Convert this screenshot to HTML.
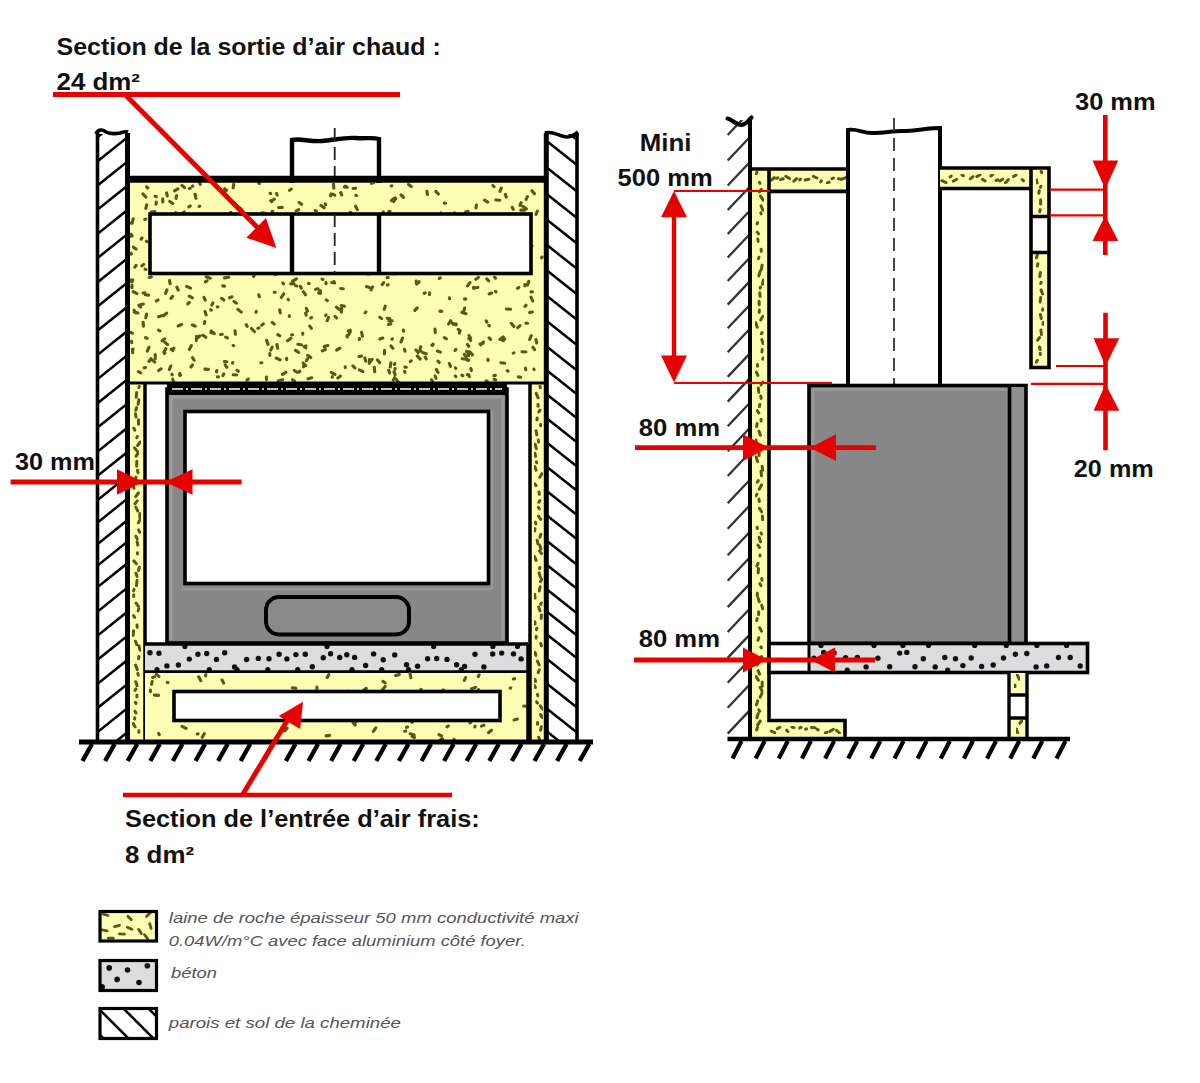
<!DOCTYPE html>
<html><head><meta charset="utf-8"><title>Diagram</title>
<style>html,body{margin:0;padding:0;background:#fff;width:1200px;height:1083px;overflow:hidden;position:relative;font-family:"Liberation Sans",sans-serif;}</style>
</head><body>
<div style="position:absolute;left:0;top:0;width:1200px;height:1083px">
<svg width="1200" height="1083" viewBox="0 0 1200 1083" style="position:absolute;left:0;top:0">
<rect width="1200" height="1083" fill="#fff"/>
<defs><filter id="bl" x="-5%" y="-5%" width="110%" height="110%"><feGaussianBlur stdDeviation="0.6"/></filter></defs>
<rect x="129.0" y="182.0" width="415.0" height="201.0" fill="#fdfdb3"/>
<path d="M262.2 212.7L265.3 213.4M351.3 255.4L351.3 256.1M145.1 269.2L145.9 269.4M304.9 347.2L305.7 347.9M388.7 370.3L389.6 372.9M532.0 190.7L534.4 193.8M190.3 206.0L188.9 206.9M204.0 297.3L205.2 300.1M355.9 195.3L356.5 195.7M411.2 267.2L410.8 268.9M318.2 241.2L316.1 244.1M232.0 296.8L229.6 297.8M429.2 239.5L433.3 241.1M302.7 333.1L302.7 334.2M146.6 314.2L145.8 317.7M492.1 243.9L491.1 247.0M371.4 273.5L367.6 274.1M326.0 314.9L325.6 315.5M396.1 379.1L398.5 382.1M289.3 315.8L289.4 316.4M199.7 206.1L199.1 206.5M184.4 231.9L182.5 232.7M164.5 271.9L162.0 272.9M468.2 354.2L468.6 355.7M276.2 358.0L280.1 359.9M202.7 228.4L202.8 229.9M373.2 235.0L373.4 235.5M283.7 293.9L281.3 297.5M341.3 305.6L344.5 306.2M503.1 337.0L499.9 339.4M292.2 262.0L291.9 262.8M155.1 196.1L156.3 196.7M270.2 193.3L270.7 193.6M172.2 255.2L171.6 255.5M383.3 211.9L384.0 213.2M282.3 207.4L278.5 207.5M322.1 279.2L322.9 279.4M269.8 234.8L273.2 236.6M138.4 371.7L140.7 372.8M355.6 188.3L353.0 188.5M486.2 320.8L486.9 322.2M200.0 335.8L198.0 337.5M268.0 227.3L264.3 227.5M483.4 342.0L480.8 344.8M222.7 285.9L224.6 286.1M142.0 238.0L141.1 239.2M527.2 271.9L522.9 272.1M523.9 255.1L524.9 256.0M212.7 223.2L209.8 224.1M478.4 277.5L475.8 279.3M166.6 313.1L163.4 315.8M440.3 277.8L439.3 278.5M266.6 340.3L268.0 344.4M294.3 370.5L297.2 372.3M184.2 211.9L180.8 214.3M191.4 345.5L189.3 349.4M274.2 292.2L275.2 292.2M532.3 312.0L529.7 312.6M307.7 355.3L310.7 357.6M234.2 240.6L233.8 242.0M237.6 266.2L236.6 266.5M277.5 273.8L274.8 274.6M303.8 364.4L303.6 366.9M345.3 186.1L347.2 187.3M131.6 341.4L131.7 342.6M429.6 292.8L429.5 294.6M359.5 338.6L359.3 339.5M232.7 236.3L232.6 239.9M361.6 332.2L362.4 336.3M383.7 282.6L382.2 284.7M318.0 288.9L315.6 289.3M417.3 355.9L420.2 359.0M359.3 369.9L362.8 371.5M179.9 270.7L180.5 271.3M161.9 315.6L158.5 316.8M192.4 324.8L195.2 326.2M495.3 375.4L493.9 375.6M296.4 278.8L292.6 281.1M196.1 267.8L197.3 270.0M209.2 246.3L212.5 246.5M358.7 270.4L359.0 270.9M388.1 284.9L387.3 285.0M455.3 376.0L455.9 376.7M145.6 337.7L147.1 338.3M303.1 363.0L305.7 365.7M192.5 364.8L190.9 367.0M166.6 192.9L167.3 196.0M161.1 368.8L158.7 370.6M164.9 353.2L164.2 353.5M318.7 250.2L316.1 250.8M239.7 207.8L241.6 209.6M174.9 214.9L175.5 215.3M257.8 242.3L259.9 245.1M335.6 218.3L337.5 218.5M233.7 184.4L233.2 187.7M206.2 276.8L210.2 278.2M469.3 268.4L467.1 269.6M294.0 283.7L290.7 283.9M272.2 347.1L270.8 350.1M296.8 252.0L297.5 252.3M158.5 330.1L159.9 330.8M165.9 348.7L163.9 352.1M246.3 230.4L246.5 232.0M195.8 271.6L194.3 271.8M532.4 291.8L531.0 291.9M257.8 253.7L257.9 254.2M326.0 282.4L326.0 283.7M131.9 235.2L132.2 236.0M146.6 186.9L147.8 188.0M372.7 286.8L371.0 289.8M425.2 357.1L426.2 358.8M537.4 211.2L536.0 214.3M148.9 347.3L147.3 351.1M433.1 344.1L433.0 345.2M339.9 348.2L336.7 350.1M372.1 359.3L370.3 362.0M224.7 188.7L225.2 189.7M173.9 348.1L172.8 350.6M387.4 318.4L389.9 318.5M459.6 330.7L459.3 333.2M401.1 194.9L403.5 197.4M159.4 234.8L162.1 236.9M435.1 376.0L436.0 378.3M328.5 317.4L327.2 320.7M395.1 198.0L395.8 198.8M435.6 243.5L438.3 243.6M156.0 235.2L154.1 237.8M408.9 239.6L409.2 242.2M320.9 205.4L324.2 207.8M533.9 369.0L534.0 369.6M467.9 374.8L469.4 376.5M216.8 370.5L216.5 371.8M186.6 286.4L190.5 288.2M470.0 282.6L467.5 285.9M224.3 361.5L226.8 361.7M130.8 279.9L132.2 281.8M188.9 251.0L187.3 251.9M128.9 331.7L132.5 333.1M511.3 323.3L513.9 326.5M284.3 259.0L283.1 263.3M278.2 268.1L279.8 268.3M172.8 348.9L171.2 349.3M231.9 235.2L234.0 236.6M285.9 372.2L282.5 374.4M390.9 362.7L390.2 366.9M426.9 191.2L427.4 194.5M440.0 311.1L441.7 311.4M512.2 207.3L513.3 209.4M251.5 328.5L254.5 331.7M400.5 241.6L401.4 244.2M199.7 215.0L198.5 215.4M337.4 226.8L333.2 226.8M315.2 210.6L316.4 211.0M270.7 200.6L271.7 201.7M364.8 357.9L365.7 361.2M300.4 286.4L301.4 288.2M153.6 237.4L157.6 239.1M336.4 307.1L339.4 309.5M241.8 231.4L242.1 233.5M522.0 351.8L526.0 352.0M143.1 322.2L143.5 326.2M373.5 182.8L371.5 183.3M469.4 351.7L472.5 354.8M175.7 212.6L174.3 214.8M520.0 325.6L517.7 327.7M319.1 292.5L318.6 293.0M225.2 364.8L226.9 367.3M183.7 231.9L182.0 234.3M176.6 195.7L176.0 198.3M288.8 227.4L291.7 227.5M255.5 272.7L253.6 276.6M494.5 277.1L495.5 278.1M525.9 323.2L527.6 323.3M335.0 316.4L336.6 318.0M404.9 367.0L406.3 367.2M268.3 265.7L270.9 267.6M458.2 329.3L460.2 330.8M529.1 243.8L532.0 246.3M222.3 334.2L220.6 334.5M334.6 219.6L334.9 220.9M404.6 371.3L404.9 372.3M217.4 376.8L218.5 376.9M156.7 260.5L152.9 262.0M431.5 379.7L433.7 383.3M204.9 369.1L208.4 369.4M403.9 257.5L404.9 259.2M199.5 182.8L200.3 184.3M522.9 206.3L526.4 208.9M276.9 344.6L277.7 348.3M151.3 277.0L149.4 277.5M207.7 255.3L211.8 255.7M297.9 344.3L301.4 344.8M142.9 193.9L145.8 197.0M438.0 361.1L439.2 362.5M526.0 305.2L525.0 306.4M260.9 237.7L260.5 238.0M506.4 309.0L510.6 309.3M228.7 277.3L224.4 277.9M289.6 231.8L289.7 234.1M514.6 218.0L512.0 220.8M469.0 335.5L470.6 338.0M260.2 254.6L263.7 255.5M210.8 332.7L212.2 333.0M144.9 292.9L143.1 293.0M494.1 379.4L495.6 379.8M169.5 280.6L170.1 283.8M227.5 264.7L225.9 267.2M437.4 351.0L440.4 352.1M476.7 240.2L477.8 242.7M434.3 222.1L435.4 223.2M192.6 357.7L194.1 360.2M292.6 379.7L294.5 381.3M461.8 312.3L466.0 313.7M327.9 345.5L324.2 346.5M146.3 241.2L147.1 241.7M531.0 297.1L532.7 301.0M488.3 271.9L487.1 272.9M521.1 202.7L520.0 205.4M219.5 256.1L220.3 256.7M234.0 301.4L236.5 303.2M133.4 247.2L136.0 249.0M259.2 221.7L258.7 225.3M156.3 202.1L156.0 204.2M394.3 200.7L393.6 201.6M300.1 239.3L298.4 239.5M258.8 294.8L259.3 296.7M486.1 380.8L487.7 381.9M430.9 223.5L430.4 223.6M306.0 345.9L304.0 346.6M320.4 215.1L320.3 215.6M394.8 363.7L394.4 364.4M282.8 283.0L283.5 283.8M345.2 366.7L345.3 367.6M461.8 375.2L463.0 375.7M518.3 376.9L520.7 377.3M513.3 258.3L511.7 262.1M469.1 213.7L471.9 216.1M295.5 350.4L298.7 352.5M219.6 261.3L220.6 263.8M182.4 231.6L179.2 232.7M145.2 294.7L148.7 295.1M476.4 205.0L476.0 207.9M389.2 242.9L388.7 245.0M305.6 313.0L306.1 315.2M138.7 305.3L140.6 307.0M444.4 337.6L446.3 338.8M325.3 203.8L325.5 204.8M166.6 270.8L169.1 271.1M394.2 198.3L391.5 200.5M340.8 192.6L341.7 195.0M524.7 210.1L520.7 210.1M433.0 345.1L431.7 345.2M331.3 372.3L335.0 374.4M455.4 367.8L455.8 368.5M441.0 213.0L443.6 216.1M468.1 211.3L465.6 211.9M215.4 234.2L216.7 236.4M145.8 219.1L144.7 219.4M411.2 360.8L410.2 361.6M176.9 287.2L178.2 290.0M491.8 293.0L489.2 294.0M172.7 379.2L173.7 382.0M460.0 233.5L458.9 237.9M277.8 334.6L279.7 335.8M435.8 191.3L438.4 194.0M394.7 377.6L393.3 380.1M258.8 183.2L259.4 183.5M385.6 268.6L383.2 269.4M183.0 228.1L186.1 228.3M130.9 253.2L131.3 254.1M221.5 298.3L223.8 300.0M388.2 277.4L387.2 277.6M230.8 212.3L230.4 213.1M489.1 337.9L490.6 339.4M134.1 310.1L135.4 312.6M398.1 269.7L395.2 272.9M232.7 362.5L232.6 363.1M298.0 230.1L297.4 230.5M133.2 291.7L137.0 293.6M212.9 302.9L211.9 305.1M465.4 217.0L466.4 218.5M151.2 358.6L148.9 361.4M132.4 349.3L132.8 352.8M435.7 272.8L437.0 273.3M226.6 190.1L225.3 191.4M416.0 350.0L418.2 352.5M358.8 268.0L358.6 271.6M237.9 309.4L241.3 312.1M492.9 185.5L494.0 186.6M436.3 369.5L438.1 372.5M494.2 248.2L492.8 248.6M392.1 320.8L388.9 321.0M325.4 349.4L322.4 350.8M309.8 326.1L311.4 328.3M217.9 306.8L217.2 307.0M190.2 188.3L189.3 188.5M272.1 211.2L272.7 211.3M417.2 307.9L414.9 310.4M158.0 300.0L156.3 301.0M468.8 360.2L468.1 360.5M507.3 370.6L508.0 371.2M177.9 188.8L174.6 190.9M391.0 346.0L392.9 348.4M169.8 201.4L172.7 203.5M261.6 267.1L262.0 267.5M246.2 324.6L247.2 326.3M528.8 281.4L527.4 285.1M143.6 264.4L141.9 265.9M272.2 322.4L274.3 324.1M484.5 200.1L487.7 202.1M132.3 223.1L128.8 223.3M132.8 279.9L130.8 281.4M207.0 280.9L205.4 281.9M237.0 370.3L238.3 371.3M419.1 281.7L418.7 282.6M164.7 338.8L162.1 340.8M389.0 252.8L389.7 254.8M495.7 200.0L499.8 200.3M215.1 233.3L215.1 237.4M286.6 358.2L286.7 359.6M350.3 331.6L348.7 334.7M274.4 247.7L273.4 248.3M403.3 330.1L403.6 331.2M449.4 297.8L449.5 298.8M495.2 229.8L495.9 230.9M419.9 350.6L420.9 351.2M231.1 247.4L233.4 248.6M266.9 219.0L264.0 222.3M171.9 374.1L172.2 374.9M536.0 339.5L536.7 342.9M210.7 309.7L211.4 310.2M291.2 189.1L289.6 190.4M416.2 281.1L416.6 284.1M189.3 302.4L187.8 303.9M506.0 267.6L504.0 269.6M305.5 227.9L302.4 229.1M450.7 320.7L448.6 324.0M395.3 272.5L394.6 274.1M171.5 265.1L169.3 267.9M389.9 231.7L390.2 233.8M388.3 264.1L385.1 264.8M205.0 311.5L206.2 314.9M332.3 376.6L332.3 377.3M196.6 336.4L196.3 340.7M172.6 296.3L170.9 298.4M341.7 308.3L341.4 312.1M299.8 371.1L299.1 372.2M292.6 334.8L291.6 334.8M276.6 193.5L277.1 195.0M136.1 265.4L134.9 267.2M275.9 235.3L274.9 236.3M518.8 287.5L517.6 288.3M292.3 224.9L291.5 225.5M464.6 308.1L464.1 310.4M223.7 373.9L222.9 375.7M467.4 344.5L468.9 346.4M355.6 206.2L357.3 209.6M480.6 235.5L482.0 236.9M306.1 219.8L305.8 220.2M246.1 230.9L246.2 232.6M306.3 308.4L307.6 311.2M513.9 352.8L513.3 353.2M504.6 338.8L503.6 339.3M391.8 185.9L391.2 186.0M400.5 232.6L401.3 233.0M225.7 337.0L227.3 337.9M503.9 340.3L502.8 340.7M382.8 338.0L379.8 339.0M455.8 349.4L455.1 350.5M350.3 330.2L348.2 331.0M358.6 235.3L359.9 235.9M332.6 194.1L334.7 195.2M334.1 281.6L331.7 282.7M133.0 349.1L132.5 351.5M404.5 349.3L405.0 351.2M527.4 196.6L526.1 199.4M143.4 304.0L140.2 304.7M266.4 377.1L266.5 379.6M501.3 188.2L500.0 191.3M269.8 353.5L269.9 355.5M346.9 335.7L347.2 337.0M303.3 291.7L305.6 294.8M471.0 262.4L472.7 264.3M340.4 376.1L337.9 378.0M266.9 245.3L266.4 246.9M392.4 338.8L392.0 339.3M495.5 291.3L496.0 291.8M133.3 218.8L131.9 222.8M402.5 338.1L401.0 342.0M385.2 306.2L384.2 309.3M411.0 223.7L411.5 226.9M444.4 203.1L445.6 203.2M449.3 363.5L450.5 366.3M468.8 338.5L470.7 340.5M254.6 266.1L254.9 267.8M395.1 368.5L395.0 369.2M146.7 204.8L145.8 208.5M509.3 271.6L509.5 272.1M374.3 367.4L374.7 371.8M299.1 202.4L301.5 204.3M192.8 185.9L192.5 186.3M180.6 375.1L179.9 375.5M182.0 185.4L184.5 187.7M433.2 220.1L432.7 220.5M423.0 352.8L426.3 353.7M390.8 323.9L388.5 324.4M233.2 374.8L236.6 375.0M134.3 312.0L137.9 313.0M259.0 327.9L257.9 328.4M331.1 193.9L330.6 195.9M311.6 317.4L310.8 318.0M279.6 309.9L280.4 312.8M291.0 338.1L287.6 340.8M364.5 241.2L363.7 241.2M420.7 346.8L420.2 348.5M532.9 347.2L534.5 349.6M307.5 358.9L306.4 360.6M377.4 359.9L379.7 362.8M131.0 234.3L130.4 236.4M467.3 359.4L466.7 359.8M464.3 354.5L466.2 356.6M483.1 343.2L480.0 344.0M274.3 199.1L272.2 200.7M211.2 330.9L214.3 333.7M379.7 317.1L381.6 318.6M235.0 330.7L235.4 334.3M164.9 342.3L167.6 344.7M369.5 359.5L369.2 363.5M326.3 299.9L327.3 300.6M204.8 321.6L204.4 323.5M295.7 285.8L296.8 286.0M542.0 257.0L541.6 257.9M454.5 212.8L455.9 215.4M344.9 187.1L344.2 187.1M486.7 278.8L488.6 280.8M453.4 266.3L450.2 269.2M467.4 374.6L468.9 374.8M212.6 218.9L213.4 219.0M361.3 356.1L359.0 356.5M505.3 194.4L506.3 197.1M179.7 373.2L179.4 374.6M394.1 371.8L395.1 374.8M317.3 214.7L313.0 214.8M221.2 190.0L221.9 191.4M500.9 362.7L504.7 363.3M456.3 324.1L453.2 324.3M154.8 211.5L151.3 212.1M410.6 241.5L408.5 243.4M172.8 247.2L174.2 247.8M328.1 216.2L329.4 216.9M408.5 184.5L411.2 186.5M145.5 367.5L144.2 367.8M487.9 359.3L488.1 360.4M170.8 366.0L169.3 369.6M316.7 248.7L316.9 252.5M388.8 211.3L390.1 211.5M425.3 292.9L424.3 293.3M239.7 264.5L240.4 265.4M476.7 249.0L476.8 250.2M261.8 362.7L260.9 362.8M152.2 360.1L154.7 362.1M326.6 239.5L327.8 240.4M282.6 379.7L278.3 380.7M168.3 240.2L172.3 241.0M427.8 241.3L432.2 241.5M462.8 250.8L463.8 250.8M473.6 287.2L473.8 288.4M505.4 225.8L507.9 227.0M203.0 335.3L205.8 337.3M162.7 198.9L162.8 201.9M244.0 222.8L242.2 225.2M464.5 298.9L465.8 299.1M430.9 263.9L434.3 264.5M466.6 248.9L463.0 250.5M333.5 184.0L333.8 188.1M490.7 235.7L489.6 236.3M281.9 214.6L281.3 216.5M132.0 285.3L131.9 287.6M181.6 324.4L178.2 326.0M263.3 323.8L261.8 325.2M155.2 354.5L155.3 358.8M340.7 288.5L343.3 288.7M529.0 227.3L530.1 227.7M233.1 345.5L233.7 345.7M418.8 221.6L418.6 222.1M366.5 286.5L369.7 287.6M488.8 325.6L489.4 325.8M333.1 282.3L334.6 283.0M298.8 209.6L296.2 210.9M189.3 296.1L192.3 297.9M470.9 368.6L471.4 370.6M477.8 287.4L475.8 287.8M450.5 249.7L451.2 251.0M311.7 377.8L308.1 378.8M466.6 351.3L466.6 352.0M525.4 368.2L525.8 369.7M390.0 255.2L392.6 255.8M308.6 283.3L309.1 283.6M531.3 335.6L529.6 339.5M462.2 358.8L466.2 359.2M393.9 234.7L396.0 237.1M352.9 365.9L355.0 368.0M343.6 267.6L346.2 271.0M256.3 311.4L256.0 312.3M524.8 284.5L524.9 286.0M350.0 212.3L350.9 212.7M250.7 263.3L251.9 264.5M166.9 289.9L165.6 293.5M365.9 311.9L365.1 312.9M320.2 290.6L320.5 293.5M258.3 230.5L258.2 231.9M288.1 299.3L288.4 299.8M485.9 229.1L486.0 231.8M248.3 379.0L247.0 380.1M195.1 194.3L195.9 198.3M156.4 259.4L154.9 261.0M176.6 226.2L173.6 229.4M194.3 249.3L193.3 250.9M384.6 350.3L384.4 354.0M435.0 329.1L435.2 332.7M452.3 323.2L456.1 324.8" stroke="#5a5818" stroke-width="3.1" stroke-linecap="round" fill="none" filter="url(#bl)"/>
<rect x="150.0" y="214.0" width="381.0" height="59.5" fill="#fff" stroke="#000" stroke-width="3.6" rx="0.0"/>
<path d="M292 183 L292 140 C300 138 310 142 322 141 C334 140 345 137 356 138 C366 139 372 137 379 139 L379 183" fill="#fff" stroke="#000" stroke-width="4.4"/>
<line x1="292.0" y1="214.0" x2="292.0" y2="273.5" stroke="#000" stroke-width="4.4" stroke-linecap="butt"/>
<line x1="379.0" y1="214.0" x2="379.0" y2="273.5" stroke="#000" stroke-width="4.4" stroke-linecap="butt"/>
<path d="M334.7 128 V183 M334.7 214 V273" stroke="#222" stroke-width="1.8" stroke-dasharray="13 6"/>
<line x1="127.0" y1="179.2" x2="546.0" y2="179.2" stroke="#000" stroke-width="7.0" stroke-linecap="butt"/>
<rect x="128.0" y="383.0" width="17.0" height="359.0" fill="#fdfdb3"/>
<path d="M139.3 386.5L138.9 387.5M136.7 392.5L136.2 397.3M138.8 399.8L138.1 404.2M136.6 407.6L135.7 410.3M135.5 413.8L136.0 417.0M138.5 419.8L138.5 424.2M133.8 428.2L134.8 430.2M137.4 436.5L136.7 437.7M140.2 442.0L137.6 445.5M134.5 447.9L137.5 451.5M137.8 453.7L136.1 456.2M136.8 461.3L136.7 466.3M137.5 470.2L138.0 472.7M136.0 477.1L134.9 481.7M133.5 485.8L133.9 488.3M138.4 493.0L135.7 496.6M137.2 500.9L135.0 503.6M135.8 507.1L137.7 510.9M139.9 513.4L139.8 517.7M140.1 519.4L138.4 522.8M138.6 529.9L139.8 532.3M135.9 536.2L137.2 538.9M137.1 541.8L137.8 545.1M137.4 552.8L137.5 554.0M133.9 560.9L136.4 563.8M139.3 567.2L138.5 570.5M136.0 573.3L137.0 576.4M137.0 580.6L136.5 585.6M134.1 589.4L133.6 590.9M133.7 594.8L133.7 596.5M136.1 603.1L138.5 606.5M138.7 608.8L138.1 610.9M133.6 615.7L134.7 617.5M137.0 624.9L137.2 627.3M133.6 630.8L133.1 635.3M135.5 641.2L136.7 644.5M138.9 645.9L140.1 650.2M138.9 656.5L138.6 658.7M135.6 665.1L137.3 669.6M137.8 673.4L138.3 675.2M135.7 681.7L137.1 685.7M136.0 688.9L135.0 690.3M137.0 695.3L136.9 696.8M135.5 702.4L136.1 703.5M135.0 711.2L135.9 713.0M134.8 717.9L134.5 719.1M133.1 723.6L135.1 726.8M138.8 730.8L138.9 732.3" stroke="#5a5818" stroke-width="3" stroke-linecap="round" fill="none" filter="url(#bl)"/>
<rect x="530.0" y="383.0" width="16.0" height="359.0" fill="#fdfdb3"/>
<path d="M540.0 386.2L540.3 387.8M536.2 393.4L538.1 397.8M538.0 404.4L538.1 406.3M540.0 410.2L538.9 411.9M537.2 418.0L536.9 419.9M540.6 424.3L540.6 425.8M536.1 430.7L536.7 434.8M538.3 439.9L538.6 442.1M535.2 444.3L536.3 448.6M534.9 453.2L535.6 456.4M536.4 461.7L536.7 462.9M534.8 466.6L536.0 470.2M541.9 473.7L539.8 477.2M534.8 483.9L536.1 485.6M539.0 491.9L539.3 494.3M539.9 500.5L538.9 502.3M538.5 507.4L539.3 508.9M538.5 516.2L540.8 519.3M535.4 522.1L535.9 523.8M535.0 528.7L534.6 530.9M540.9 534.2L539.9 537.3M537.2 540.2L537.9 543.8M539.7 545.1L540.9 549.0M539.5 550.9L541.5 553.6M534.5 556.5L536.1 560.4M539.9 567.4L539.6 568.7M539.1 572.9L540.4 577.1M541.9 579.3L540.4 581.6M540.1 586.8L539.3 591.0M534.7 594.3L535.1 598.1M541.3 603.0L540.7 604.4M538.7 607.0L540.1 610.9M541.4 614.9L541.2 618.5M534.8 621.7L535.1 624.1M536.9 628.2L536.5 629.7M536.2 636.3L536.1 638.3M540.7 643.4L541.4 645.7M535.1 652.4L535.9 655.5M537.4 661.2L539.2 664.8M539.2 670.0L538.2 672.7M535.1 679.4L535.5 681.6M534.5 685.6L535.4 687.5M537.5 694.3L537.8 695.7M536.6 701.7L537.5 703.1M540.3 705.8L542.5 709.1M540.5 714.6L542.2 717.4M537.6 722.6L537.5 724.3M541.3 726.8L540.6 730.3M538.7 737.2L539.4 739.1" stroke="#5a5818" stroke-width="3" stroke-linecap="round" fill="none" filter="url(#bl)"/>
<line x1="145.0" y1="383.0" x2="145.0" y2="742.0" stroke="#000" stroke-width="3.5" stroke-linecap="butt"/>
<line x1="530.0" y1="383.0" x2="530.0" y2="742.0" stroke="#000" stroke-width="3.5" stroke-linecap="butt"/>
<line x1="127.0" y1="383.0" x2="546.0" y2="383.0" stroke="#000" stroke-width="3.0" stroke-linecap="butt"/>
<rect x="167" y="389" width="340" height="254" fill="#878787" stroke="#000" stroke-width="3.6"/>
<rect x="167" y="383" width="340" height="12" fill="#000"/>
<path d="M172 389 H502" stroke="#fff" stroke-width="1.5" stroke-dasharray="11 3 2 3"/>
<path d="M171 395 V640 M171 397 H503 M503 397 V640" stroke="#9b9b9b" stroke-width="3" fill="none"/>
<path d="M182 589 H492 M492 410 V589" stroke="#989898" stroke-width="2.5" fill="none"/>
<rect x="185.0" y="411.5" width="303.5" height="172.0" fill="#fff" stroke="#000" stroke-width="3.6" rx="0.0"/>
<rect x="266.0" y="597.0" width="143.0" height="37.5" fill="#8a8a8a" stroke="#000" stroke-width="4.0" rx="13.0"/>
<rect x="145.0" y="644.0" width="383.0" height="28.0" fill="#dcdcde"/>
<g fill="#111"><circle cx="150.0" cy="652.7" r="2.7"/><circle cx="159.0" cy="653.3" r="2.7"/><circle cx="166.9" cy="665.9" r="2.7"/><circle cx="178.4" cy="665.0" r="2.7"/><circle cx="189.3" cy="659.1" r="2.7"/><circle cx="197.9" cy="654.2" r="2.7"/><circle cx="206.7" cy="653.5" r="2.7"/><circle cx="216.5" cy="659.4" r="2.7"/><circle cx="224.7" cy="652.7" r="2.7"/><circle cx="234.6" cy="666.9" r="2.7"/><circle cx="246.6" cy="659.5" r="2.7"/><circle cx="258.3" cy="658.4" r="2.7"/><circle cx="269.0" cy="658.8" r="2.7"/><circle cx="279.1" cy="654.3" r="2.7"/><circle cx="286.9" cy="658.9" r="2.7"/><circle cx="295.9" cy="654.6" r="2.7"/><circle cx="305.3" cy="654.3" r="2.7"/><circle cx="312.3" cy="666.7" r="2.7"/><circle cx="323.3" cy="657.7" r="2.7"/><circle cx="330.6" cy="653.8" r="2.7"/><circle cx="339.7" cy="657.5" r="2.7"/><circle cx="346.8" cy="654.8" r="2.7"/><circle cx="354.6" cy="657.4" r="2.7"/><circle cx="365.6" cy="665.5" r="2.7"/><circle cx="373.6" cy="653.9" r="2.7"/><circle cx="383.2" cy="659.7" r="2.7"/><circle cx="394.7" cy="654.9" r="2.7"/><circle cx="406.5" cy="664.8" r="2.7"/><circle cx="417.6" cy="666.3" r="2.7"/><circle cx="427.6" cy="658.7" r="2.7"/><circle cx="436.7" cy="658.5" r="2.7"/><circle cx="447.0" cy="659.4" r="2.7"/><circle cx="456.6" cy="664.7" r="2.7"/><circle cx="464.6" cy="666.4" r="2.7"/><circle cx="475.0" cy="654.2" r="2.7"/><circle cx="483.9" cy="666.9" r="2.7"/><circle cx="492.7" cy="654.0" r="2.7"/><circle cx="501.7" cy="653.1" r="2.7"/><circle cx="513.5" cy="653.9" r="2.7"/><circle cx="521.1" cy="658.9" r="2.7"/><circle cx="157.0" cy="669.5" r="2.6"/><circle cx="184.9" cy="646.5" r="2.6"/><circle cx="209.3" cy="669.5" r="2.6"/><circle cx="237.1" cy="669.5" r="2.6"/><circle cx="267.8" cy="669.5" r="2.6"/><circle cx="297.7" cy="669.5" r="2.6"/><circle cx="327.0" cy="646.5" r="2.6"/><circle cx="352.0" cy="669.5" r="2.6"/><circle cx="381.7" cy="669.5" r="2.6"/><circle cx="408.5" cy="669.5" r="2.6"/><circle cx="433.7" cy="646.5" r="2.6"/><circle cx="461.3" cy="669.5" r="2.6"/><circle cx="492.9" cy="646.5" r="2.6"/><circle cx="517.5" cy="646.5" r="2.6"/></g>
<line x1="145.0" y1="644.0" x2="528.0" y2="644.0" stroke="#000" stroke-width="3.6" stroke-linecap="butt"/>
<line x1="145.0" y1="672.0" x2="528.0" y2="672.0" stroke="#000" stroke-width="3.6" stroke-linecap="butt"/>
<rect x="145.0" y="673.0" width="383.0" height="68.0" fill="#fdfdb3"/>
<path d="M381.4 700.6L382.1 700.7M412.3 736.6L414.5 737.5M198.1 733.9L197.2 734.0M222.1 680.0L223.6 683.1M287.1 728.2L284.6 730.9M150.5 690.1L150.4 691.6M346.9 696.9L344.9 698.2M280.9 696.6L280.4 698.3M158.7 733.4L159.3 734.7M410.0 673.2L410.8 677.6M447.2 705.9L447.7 706.5M204.3 733.7L202.2 737.2M465.3 712.8L463.8 712.8M435.0 691.6L437.2 691.8M523.7 706.0L526.1 706.3M465.6 677.6L464.3 680.3M375.8 727.8L373.3 731.4M317.0 687.0L316.8 691.3M282.7 708.5L284.3 709.2M385.2 686.5L382.7 689.4M271.1 703.1L273.4 706.7M273.3 705.4L274.3 706.4M480.9 713.0L478.9 715.3M201.1 699.4L200.4 699.4M280.7 711.3L283.2 712.5M410.2 733.8L414.1 735.0M220.6 701.7L223.2 702.6M448.3 725.9L447.1 726.8M198.7 676.8L200.8 680.7M284.9 730.0L283.5 730.6M419.5 694.6L417.8 697.5M483.9 725.2L481.5 726.1M453.9 739.4L454.8 740.1M484.3 717.3L485.0 719.3M439.0 734.7L441.5 736.0M420.9 689.4L419.6 691.9M514.6 678.7L513.4 679.0M368.8 693.1L369.0 695.0M517.4 719.1L514.1 720.0M466.1 694.9L464.9 695.3M353.1 723.0L355.3 725.1M154.7 676.8L152.6 677.5M253.4 706.8L254.0 707.4M167.3 682.4L168.0 682.6M455.3 712.0L458.7 712.0M249.0 716.2L249.3 716.6M154.5 695.1L158.5 695.4M329.7 713.3L332.9 715.2M475.1 726.2L474.8 727.0M442.7 739.0L440.6 739.4M479.1 674.9L478.3 676.5M266.9 700.6L264.0 702.2M205.8 674.6L205.6 675.9M465.8 696.8L466.7 698.5M405.7 731.1L404.6 731.2M366.3 688.4L363.8 690.0M328.7 674.7L327.2 677.5M354.8 719.4L355.9 721.9M347.9 691.3L347.7 692.8M182.1 726.4L186.0 728.4M387.8 700.0L383.4 700.9M382.9 681.3L385.1 682.9M443.2 690.0L441.2 692.2M491.5 730.2L488.5 732.7M347.1 695.5L347.7 698.8M475.6 687.4L471.6 688.7M292.4 687.8L296.0 688.2M399.3 674.5L395.7 675.5M402.6 696.5L403.1 697.8M493.0 698.1L490.2 699.5M156.5 674.2L158.9 676.5M280.3 694.7L281.7 696.4M482.8 705.6L479.3 708.3M329.6 735.4L326.1 735.9M197.6 693.8L198.4 693.8M478.6 689.6L478.0 691.3M510.8 687.8L510.3 688.2M470.6 722.3L470.1 722.8M313.8 702.6L312.8 702.8M407.6 727.0L406.5 727.3M196.3 692.9L197.4 695.1M432.0 703.6L432.5 705.7M390.1 717.0L391.2 718.8M487.2 712.0L486.7 713.2M152.2 681.5L151.5 684.3M412.4 722.0L411.8 722.2" stroke="#5a5818" stroke-width="3.1" stroke-linecap="round" fill="none" filter="url(#bl)"/>
<rect x="174.0" y="691.5" width="326.0" height="29.0" fill="#fff" stroke="#000" stroke-width="3.6" rx="0.0"/>
<line x1="528.0" y1="644.0" x2="528.0" y2="742.0" stroke="#000" stroke-width="3.5" stroke-linecap="butt"/>
<clipPath id="cwL"><rect x="97" y="134" width="30" height="608"/></clipPath>
<path clip-path="url(#cwL)" d="M97 137.5L127 113.5M97 161.7L127 137.7M97 185.9L127 161.9M97 210.1L127 186.1M97 234.3L127 210.3M97 258.5L127 234.5M97 282.7L127 258.7M97 306.9L127 282.9M97 331.1L127 307.1M97 355.3L127 331.3M97 379.5L127 355.5M97 403.7L127 379.7M97 427.9L127 403.9M97 452.1L127 428.1M97 476.3L127 452.3M97 500.5L127 476.5M97 523.0L127 499.0M97 544.6L127 520.6M97 566.0L127 542.0M97 587.6L127 563.6M97 612.0L127 588.0M97 636.1L127 612.1M97 660.2L127 636.2M97 684.3L127 660.3M97 708.4L127 684.4M97 732.5L127 708.5M97 756.6L127 732.6" stroke="#000" stroke-width="2.5" fill="none"/>
<line x1="97.5" y1="131.0" x2="97.5" y2="742.0" stroke="#000" stroke-width="3.6" stroke-linecap="butt"/>
<line x1="127.5" y1="133.0" x2="127.5" y2="742.0" stroke="#000" stroke-width="5.0" stroke-linecap="butt"/>
<path d="M96 134 C98 129 103 129 106 132 C110 134 115 134 120 133 C123 132 126 131 128 132" fill="none" stroke="#000" stroke-width="3.6"/>
<clipPath id="cwR"><rect x="546" y="134" width="31" height="608"/></clipPath>
<path clip-path="url(#cwR)" d="M547 116.0L576 139.0M547 141.2L576 164.2M547 167.7L576 190.7M547 194.3L576 217.3M547 219.7L576 242.7M547 245.1L576 268.1M547 270.5L576 293.5M547 295.9L576 318.9M547 321.3L576 344.3M547 346.7L576 369.7M547 370.5L576 393.5M547 394.5L576 417.5M547 418.5L576 441.5M547 442.7L576 465.7M547 467.0L576 490.0M547 491.2L576 514.2M547 515.5L576 538.5M547 540.9L576 563.9M547 565.1L576 588.1M547 589.4L576 612.4M547 611.8L576 634.8M547 634.6L576 657.6M547 658.9L576 681.9M547 683.8L576 706.8M547 708.7L576 731.7M547 731.6L576 754.6" stroke="#000" stroke-width="2.5" fill="none"/>
<line x1="546.3" y1="133.0" x2="546.3" y2="742.0" stroke="#000" stroke-width="5.0" stroke-linecap="butt"/>
<line x1="577.0" y1="133.0" x2="577.0" y2="742.0" stroke="#000" stroke-width="3.6" stroke-linecap="butt"/>
<path d="M545 133 C550 131 556 134 562 136 C568 138 572 137 578 132" fill="none" stroke="#000" stroke-width="3.6"/>
<line x1="79.0" y1="742.0" x2="593.0" y2="742.0" stroke="#000" stroke-width="5.0" stroke-linecap="butt"/>
<path d="M92.0 744L82.5 761M114.6 744L105.1 761M137.2 744L127.7 761M159.8 744L150.3 761M182.4 744L172.9 761M205.0 744L195.5 761M227.6 744L218.1 761M250.2 744L240.7 761M272.8 744L263.3 761M295.4 744L285.9 761M318.0 744L308.5 761M340.6 744L331.1 761M363.2 744L353.7 761M385.8 744L376.3 761M408.4 744L398.9 761M431.0 744L421.5 761M453.6 744L444.1 761M476.2 744L466.7 761M498.8 744L489.3 761M521.4 744L511.9 761M544.0 744L534.5 761M566.6 744L557.1 761M589.2 744L579.7 761" stroke="#000" stroke-width="4.4" fill="none"/>
<clipPath id="cwRR"><rect x="725" y="120" width="25" height="620"/></clipPath>
<path clip-path="url(#cwRR)" d="M727.7 110.0L749 87.5M727.7 135.0L749 112.5M727.7 160.5L749 138.0M727.7 185.5L749 163.0M727.7 210.0L749 187.5M727.7 234.0L749 211.5M727.7 257.5L749 235.0M727.7 281.0L749 258.5M727.7 304.6L749 282.1M727.7 328.2L749 305.7M727.7 352.3L749 329.8M727.7 376.9L749 354.4M727.7 401.6L749 379.1M727.7 426.2L749 403.7M727.7 451.3L749 428.8M727.7 476.0L749 453.5M727.7 503.3L749 480.8M727.7 528.7L749 506.2M727.7 555.3L749 532.8M727.7 580.8L749 558.3M727.7 607.1L749 584.6M727.7 632.0L749 609.5M727.7 657.9L749 635.4M727.7 682.8L749 660.3M727.7 707.7L749 685.2M727.7 733.6L749 711.1" stroke="#333" stroke-width="2.3" fill="none"/>
<rect x="750.0" y="169.0" width="19.0" height="570.0" fill="#fdfdb3"/>
<path d="M756.9 172.4L756.0 173.6M759.5 182.4L759.9 183.3M761.4 189.3L759.4 191.8M760.5 196.2L763.2 200.2M761.1 205.8L762.9 210.3M760.8 212.9L761.1 213.9M757.6 222.7L757.1 223.8M757.2 232.1L758.6 233.9M757.8 239.1L758.1 241.4M761.1 249.2L761.3 251.3M759.0 257.2L758.4 258.7M762.1 265.1L761.2 269.6M760.2 271.2L758.8 275.9M763.4 280.1L762.4 284.3M760.5 287.1L760.2 288.2M759.8 292.8L760.1 296.5M759.1 301.3L759.2 304.7M759.4 310.1L759.2 312.4M762.8 316.3L760.7 319.9M755.7 322.6L757.2 327.2M762.0 332.6L761.5 333.8M761.8 339.6L763.1 343.5M762.2 349.6L761.9 351.9M763.2 358.0L762.8 359.2M757.3 364.6L757.6 366.2M756.3 372.1L757.9 375.4M763.0 382.0L761.0 385.0M758.3 387.9L758.8 392.3M760.7 396.0L761.2 398.4M759.9 404.4L759.4 406.6M757.3 410.7L758.8 413.1M761.1 419.2L761.1 420.9M757.2 423.6L756.6 426.5M759.0 431.2L760.4 435.2M756.1 440.0L755.9 442.0M759.0 445.3L760.6 449.7M759.1 452.3L759.1 455.4M756.2 457.0L757.6 461.6M762.1 466.3L762.8 470.1M761.0 471.0L761.5 475.8M758.3 480.6L757.3 482.3M761.5 484.9L759.2 489.2M756.9 494.2L756.0 495.8M759.0 499.1L759.3 501.6M759.4 508.3L761.6 511.8M762.4 516.0L762.7 519.8M757.1 527.2L757.3 528.5M761.1 533.0L761.5 534.0M759.1 537.3L760.5 541.8M757.9 545.0L759.5 547.4M760.0 554.9L760.0 555.9M758.1 563.4L756.9 565.9M758.5 568.4L758.2 572.9M761.8 578.6L762.0 580.2M759.9 583.6L760.9 585.7M757.3 593.0L757.3 596.1M758.2 598.2L759.2 601.7M761.7 605.2L762.7 608.8M758.7 611.8L758.6 614.6M757.1 618.8L756.7 620.6M759.7 627.7L761.5 631.1M758.8 637.7L758.0 640.4M760.8 646.9L761.4 647.8M761.5 656.6L762.0 657.6M758.0 663.6L756.8 665.0M758.1 670.6L759.6 674.2M756.1 676.5L758.4 680.3M762.2 681.9L762.2 686.2M760.2 687.4L761.9 690.9M761.9 693.4L760.2 697.1M757.7 700.9L756.5 704.9M758.8 709.7L759.7 711.3M758.2 713.7L756.9 717.8M760.2 721.1L757.7 724.8M757.6 727.3L756.6 729.9" stroke="#5a5818" stroke-width="3" stroke-linecap="round" fill="none" filter="url(#bl)"/>
<rect x="769.0" y="720.5" width="76.0" height="18.5" fill="#fdfdb3"/>
<path d="M771.2 731.1L774.8 732.6M777.2 728.8L779.9 727.3M786.6 730.2L787.9 731.6M791.9 727.0L794.0 727.6M799.7 728.1L801.1 727.2M805.5 729.2L806.6 728.9M811.5 727.6L815.1 727.8M817.2 729.4L818.2 729.9M825.3 733.0L827.0 732.3M829.9 731.4L833.4 729.3M836.5 730.3L839.5 733.0" stroke="#5a5818" stroke-width="3" stroke-linecap="round" fill="none" filter="url(#bl)"/>
<rect x="769.0" y="169.0" width="79.0" height="22.4" fill="#fdfdb3"/>
<path d="M771.8 179.9L774.2 177.7M776.3 178.3L777.8 177.8M780.5 179.6L783.3 178.7M785.8 176.3L789.5 178.6M793.8 181.2L796.8 178.6M799.7 179.9L800.5 179.0M805.1 179.9L808.9 179.3M813.4 176.4L817.0 178.0M820.6 181.9L821.4 180.8M827.2 183.0L829.2 182.1M832.0 178.7L833.5 178.0M838.5 178.8L840.4 179.1M841.4 179.4L845.9 177.6" stroke="#5a5818" stroke-width="3" stroke-linecap="round" fill="none" filter="url(#bl)"/>
<path d="M750 169 H848 M769 191.4 H848 M769 169 V720.5 H845 V739" fill="none" stroke="#000" stroke-width="3.6"/>
<path d="M848 386 V130 C856 128 862 133 872 133 C884 133 892 131 902 131 C915 131 928 128 940 128 V386" fill="#fff" stroke="#000" stroke-width="4"/>
<path d="M894 118 V385" stroke="#333" stroke-width="1.8" stroke-dasharray="13 7"/>
<rect x="940.0" y="168.0" width="91.0" height="20.5" fill="#fdfdb3"/>
<path d="M941.9 180.7L946.1 182.6M950.2 176.9L951.2 176.0M953.3 181.2L956.6 179.3M962.0 174.9L963.3 175.8M970.3 178.8L973.0 176.6M976.9 176.5L980.1 174.7M982.4 179.3L985.0 181.0M990.9 176.0L992.7 174.5M996.1 180.5L997.7 179.9M999.9 181.0L1002.7 179.2M1005.5 182.8L1008.3 179.7M1013.6 176.6L1016.1 174.9M1022.2 179.5L1023.5 180.8" stroke="#5a5818" stroke-width="3" stroke-linecap="round" fill="none" filter="url(#bl)"/>
<rect x="1031.0" y="168.0" width="18.0" height="48.5" fill="#fdfdb3"/>
<path d="M1041.1 171.5L1041.9 172.5M1036.4 179.9L1037.1 182.9M1041.0 186.2L1040.4 187.3M1039.3 190.7L1038.8 193.3M1040.6 199.8L1040.6 204.0M1040.2 209.7L1039.7 211.7" stroke="#5a5818" stroke-width="3" stroke-linecap="round" fill="none" filter="url(#bl)"/>
<rect x="1031.0" y="252.5" width="18.0" height="115.0" fill="#fdfdb3"/>
<path d="M1037.4 255.2L1036.3 257.8M1037.9 263.7L1037.4 266.1M1040.4 272.6L1039.8 276.6M1041.2 282.3L1040.7 283.5M1041.0 289.8L1042.5 293.9M1040.7 297.6L1040.2 302.1M1042.9 308.9L1042.6 310.1M1040.4 314.5L1041.3 318.5M1043.4 322.4L1042.9 324.3M1040.9 330.0L1041.4 334.6M1039.6 337.5L1037.6 340.2M1039.5 347.0L1040.2 349.5M1040.2 353.3L1040.4 354.6M1037.5 360.4L1036.0 362.2" stroke="#5a5818" stroke-width="3" stroke-linecap="round" fill="none" filter="url(#bl)"/>
<path d="M940 168 H1049 V367.5 H1031 V168 M1031 188.5 H940 M1031 216.5 H1049 M1031 252.5 H1049" fill="none" stroke="#000" stroke-width="3.6"/>
<rect x="809" y="385.5" width="217" height="258" fill="#878787" stroke="#000" stroke-width="3.6"/>
<rect x="1010" y="387" width="14" height="255" fill="#8f8f8f"/>
<path d="M813 389 V640 M813 389.5 H1008" stroke="#979797" stroke-width="3" fill="none"/>
<line x1="1009.5" y1="385.0" x2="1009.5" y2="643.0" stroke="#000" stroke-width="3.6" stroke-linecap="butt"/>
<rect x="769" y="643" width="40" height="29.5" fill="#fff"/>
<rect x="809.0" y="643.0" width="278.0" height="29.5" fill="#dcdcde"/>
<g fill="#111"><circle cx="814.0" cy="658.1" r="2.7"/><circle cx="823.7" cy="652.4" r="2.7"/><circle cx="834.1" cy="653.0" r="2.7"/><circle cx="845.6" cy="657.8" r="2.7"/><circle cx="857.4" cy="657.5" r="2.7"/><circle cx="866.1" cy="666.9" r="2.7"/><circle cx="877.9" cy="658.3" r="2.7"/><circle cx="889.7" cy="666.7" r="2.7"/><circle cx="899.7" cy="653.1" r="2.7"/><circle cx="906.8" cy="652.4" r="2.7"/><circle cx="915.0" cy="666.8" r="2.7"/><circle cx="923.3" cy="658.8" r="2.7"/><circle cx="935.2" cy="666.9" r="2.7"/><circle cx="944.8" cy="657.5" r="2.7"/><circle cx="955.5" cy="658.7" r="2.7"/><circle cx="962.9" cy="665.6" r="2.7"/><circle cx="971.2" cy="658.0" r="2.7"/><circle cx="981.6" cy="666.5" r="2.7"/><circle cx="993.2" cy="665.0" r="2.7"/><circle cx="1003.5" cy="658.0" r="2.7"/><circle cx="1015.4" cy="654.2" r="2.7"/><circle cx="1026.8" cy="653.5" r="2.7"/><circle cx="1036.1" cy="666.9" r="2.7"/><circle cx="1046.7" cy="665.9" r="2.7"/><circle cx="1058.5" cy="657.5" r="2.7"/><circle cx="1070.2" cy="657.5" r="2.7"/><circle cx="1080.2" cy="666.0" r="2.7"/><circle cx="821.0" cy="645.5" r="2.6"/><circle cx="847.3" cy="670.0" r="2.6"/><circle cx="874.0" cy="645.5" r="2.6"/><circle cx="902.9" cy="645.5" r="2.6"/><circle cx="928.5" cy="645.5" r="2.6"/><circle cx="947.7" cy="670.0" r="2.6"/><circle cx="974.7" cy="645.5" r="2.6"/><circle cx="1006.3" cy="645.5" r="2.6"/><circle cx="1036.9" cy="645.5" r="2.6"/><circle cx="1066.6" cy="645.5" r="2.6"/></g>
<rect x="769.0" y="643.5" width="318.5" height="29.0" fill="none" stroke="#000" stroke-width="3.6" rx="0.0"/>
<line x1="809.0" y1="643.0" x2="809.0" y2="672.5" stroke="#000" stroke-width="3.0" stroke-linecap="butt"/>
<rect x="1009.0" y="673.0" width="18.0" height="22.0" fill="#fdfdb3"/>
<path d="M1017.3 674.9L1019.2 679.1M1015.0 684.9L1014.9 687.2" stroke="#5a5818" stroke-width="3" stroke-linecap="round" fill="none" filter="url(#bl)"/>
<rect x="1009.0" y="718.0" width="18.0" height="21.0" fill="#fdfdb3"/>
<path d="M1021.9 720.7L1019.8 723.3M1016.4 729.1L1017.6 732.7" stroke="#5a5818" stroke-width="3" stroke-linecap="round" fill="none" filter="url(#bl)"/>
<path d="M1009 673 V739 M1027 673 V739 M1009 695 H1027 M1009 718 H1027" fill="none" stroke="#000" stroke-width="3.4"/>
<line x1="750.0" y1="120.0" x2="750.0" y2="739.0" stroke="#000" stroke-width="4.0" stroke-linecap="butt"/>
<path d="M727.5 118.5 C731 119 735 124 741 125 C746 125 748 121 751.5 117.5" fill="none" stroke="#000" stroke-width="4.2" stroke-linecap="round"/>
<line x1="727.5" y1="739.0" x2="1070.0" y2="739.0" stroke="#000" stroke-width="4.5" stroke-linecap="butt"/>
<path d="M741.5 741L732.5 758.5M764.6 741L755.6 758.5M787.8 741L778.8 758.5M810.9 741L801.9 758.5M834.1 741L825.1 758.5M857.2 741L848.2 758.5M880.3 741L871.3 758.5M903.5 741L894.5 758.5M926.6 741L917.6 758.5M949.8 741L940.8 758.5M972.9 741L963.9 758.5M996.0 741L987.0 758.5M1019.2 741L1010.2 758.5M1042.3 741L1033.3 758.5M1065.5 741L1056.5 758.5" stroke="#000" stroke-width="4.2" fill="none"/>
<line x1="53.0" y1="94.5" x2="400.0" y2="94.5" stroke="#e60000" stroke-width="5.0" stroke-linecap="butt"/>
<line x1="125.0" y1="94.5" x2="262.0" y2="232.0" stroke="#e60000" stroke-width="5.0" stroke-linecap="butt"/>
<polygon points="276.3,248.0 246.3,237.7 266.0,218.0" fill="#e60000"/>
<line x1="123.0" y1="795.0" x2="452.0" y2="795.0" stroke="#e60000" stroke-width="4.6" stroke-linecap="butt"/>
<line x1="243.0" y1="794.0" x2="290.0" y2="716.0" stroke="#e60000" stroke-width="5.0" stroke-linecap="butt"/>
<polygon points="303.1,701.7 278.8,715.9 300.1,729.1" fill="#e60000"/>
<line x1="10.6" y1="482.0" x2="241.6" y2="482.0" stroke="#e60000" stroke-width="5.0" stroke-linecap="butt"/>
<polygon points="143.0,482.0 117.0,469.2 117.0,494.8" fill="#e60000"/>
<polygon points="165.0,482.0 192.5,469.2 192.5,494.8" fill="#e60000"/>
<line x1="674.0" y1="191.0" x2="770.0" y2="191.0" stroke="#e60000" stroke-width="2.2" stroke-linecap="butt"/>
<line x1="674.0" y1="383.0" x2="832.0" y2="383.0" stroke="#e60000" stroke-width="2.2" stroke-linecap="butt"/>
<line x1="674.0" y1="215.0" x2="674.0" y2="357.0" stroke="#e60000" stroke-width="4.4" stroke-linecap="butt"/>
<polygon points="674.0,191.0 661.0,217.3 687.0,217.3" fill="#e60000"/>
<polygon points="674.0,382.5 661.0,355.4 687.0,355.4" fill="#e60000"/>
<line x1="635.0" y1="447.7" x2="876.0" y2="447.7" stroke="#e60000" stroke-width="4.8" stroke-linecap="butt"/>
<polygon points="768.5,447.7 743.0,434.3 743.0,461.1" fill="#e60000"/>
<polygon points="810.0,447.7 836.0,434.3 836.0,461.1" fill="#e60000"/>
<line x1="634.0" y1="660.0" x2="875.0" y2="660.0" stroke="#e60000" stroke-width="4.8" stroke-linecap="butt"/>
<polygon points="767.0,660.0 743.0,647.5 743.0,672.5" fill="#e60000"/>
<polygon points="810.8,660.0 835.0,647.5 835.0,672.5" fill="#e60000"/>
<line x1="1050.0" y1="189.7" x2="1105.0" y2="189.7" stroke="#e60000" stroke-width="2.2" stroke-linecap="butt"/>
<line x1="1050.0" y1="215.3" x2="1105.0" y2="215.3" stroke="#e60000" stroke-width="2.2" stroke-linecap="butt"/>
<line x1="1105.3" y1="115.0" x2="1105.3" y2="255.0" stroke="#e60000" stroke-width="4.6" stroke-linecap="butt"/>
<polygon points="1092.5,160.5 1118.2,160.5 1105.3,189.0" fill="#e60000"/>
<polygon points="1092.5,241.0 1118.2,241.0 1105.3,215.5" fill="#e60000"/>
<line x1="1056.0" y1="366.0" x2="1105.0" y2="366.0" stroke="#e60000" stroke-width="2.2" stroke-linecap="butt"/>
<line x1="1031.0" y1="383.8" x2="1105.0" y2="383.8" stroke="#e60000" stroke-width="2.2" stroke-linecap="butt"/>
<line x1="1105.5" y1="312.7" x2="1105.5" y2="450.3" stroke="#e60000" stroke-width="4.6" stroke-linecap="butt"/>
<polygon points="1093.6,338.3 1119.3,338.3 1105.5,366.0" fill="#e60000"/>
<polygon points="1093.6,410.7 1119.3,410.7 1105.5,384.0" fill="#e60000"/>
<text x="56.5" y="55.3" font-family="Liberation Sans" font-weight="bold" font-size="23.0" fill="#111" textLength="384.3" lengthAdjust="spacingAndGlyphs">Section de la sortie d’air chaud :</text>
<text x="56.5" y="90.0" font-family="Liberation Sans" font-weight="bold" font-size="23.0" fill="#111" textLength="83.5" lengthAdjust="spacingAndGlyphs">24 dm²</text>
<text x="15.0" y="470.0" font-family="Liberation Sans" font-weight="bold" font-size="23.0" fill="#111" textLength="80.0" lengthAdjust="spacingAndGlyphs">30 mm</text>
<text x="125.0" y="826.7" font-family="Liberation Sans" font-weight="bold" font-size="23.0" fill="#111" textLength="354.7" lengthAdjust="spacingAndGlyphs">Section de l’entrée d’air frais:</text>
<text x="125.0" y="862.5" font-family="Liberation Sans" font-weight="bold" font-size="23.0" fill="#111" textLength="69.0" lengthAdjust="spacingAndGlyphs">8 dm²</text>
<text x="639.7" y="150.8" font-family="Liberation Sans" font-weight="bold" font-size="23.0" fill="#111" textLength="51.7" lengthAdjust="spacingAndGlyphs">Mini</text>
<text x="617.5" y="186.0" font-family="Liberation Sans" font-weight="bold" font-size="23.0" fill="#111" textLength="95.1" lengthAdjust="spacingAndGlyphs">500 mm</text>
<text x="1075.0" y="110.3" font-family="Liberation Sans" font-weight="bold" font-size="23.0" fill="#111" textLength="80.5" lengthAdjust="spacingAndGlyphs">30 mm</text>
<text x="638.8" y="435.7" font-family="Liberation Sans" font-weight="bold" font-size="23.0" fill="#111" textLength="81.2" lengthAdjust="spacingAndGlyphs">80 mm</text>
<text x="1073.8" y="477.0" font-family="Liberation Sans" font-weight="bold" font-size="23.0" fill="#111" textLength="80.0" lengthAdjust="spacingAndGlyphs">20 mm</text>
<text x="638.7" y="647.3" font-family="Liberation Sans" font-weight="bold" font-size="23.0" fill="#111" textLength="81.3" lengthAdjust="spacingAndGlyphs">80 mm</text>
<rect x="100.5" y="912" width="55.5" height="28.5" fill="#fdfdb3"/>
<path d="M103.2 914.1L108.0 915.5M127.9 916.2L131.3 919.8M150.1 913.1L146.5 916.5M102.1 929.9L107.1 930.9M114.6 926.7L119.4 925.3M127.3 927.3L131.9 929.3M138.6 929.4L141.4 933.6M149.7 923.6L151.1 928.4M108.3 938.2L113.3 938.2M144.4 934.7L147.6 938.7M119.5 933.8L124.5 934.2" stroke="#5a5818" stroke-width="2.8" stroke-linecap="round" filter="url(#bl)"/>
<rect x="100.0" y="911.5" width="56.5" height="29.5" fill="none" stroke="#000" stroke-width="3.2" rx="0.0"/>
<rect x="100.5" y="961" width="55.5" height="29" fill="#dcdcde"/>
<g fill="#111"><circle cx="109.2" cy="967.9" r="2.8"/><circle cx="127.5" cy="970" r="2.8"/><circle cx="147.3" cy="965.8" r="2.8"/><circle cx="117.1" cy="979.4" r="2.8"/><circle cx="139" cy="982.5" r="2.8"/><circle cx="102" cy="987" r="3"/></g>
<rect x="100.0" y="960.5" width="56.5" height="30.0" fill="none" stroke="#000" stroke-width="3.2" rx="0.0"/>
<clipPath id="cleg"><rect x="100" y="1009" width="56" height="29.5"/></clipPath>
<path clip-path="url(#cleg)" d="M90 1000 L140 1050 M115 1000 L165 1050 M140 1000 L190 1050 M65 1000 L115 1050" stroke="#000" stroke-width="2.6"/>
<rect x="100.0" y="1008.5" width="56.5" height="30.0" fill="none" stroke="#000" stroke-width="3.2" rx="0.0"/>
<text x="168.8" y="923.0" font-family="Liberation Sans" font-style="italic" font-size="14.5" fill="#555" textLength="409.9" lengthAdjust="spacingAndGlyphs">laine de roche épaisseur 50 mm conductivité maxi</text>
<text x="168.8" y="945.6" font-family="Liberation Sans" font-style="italic" font-size="14.5" fill="#555" textLength="357.0" lengthAdjust="spacingAndGlyphs">0.04W/m°C avec face aluminium côté foyer.</text>
<text x="171.0" y="978.0" font-family="Liberation Sans" font-style="italic" font-size="14.5" fill="#555" textLength="46.0" lengthAdjust="spacingAndGlyphs">béton</text>
<text x="168.8" y="1027.8" font-family="Liberation Sans" font-style="italic" font-size="14.5" fill="#555" textLength="232.1" lengthAdjust="spacingAndGlyphs">parois et sol de la cheminée</text>
</svg>
</div>
</body></html>
